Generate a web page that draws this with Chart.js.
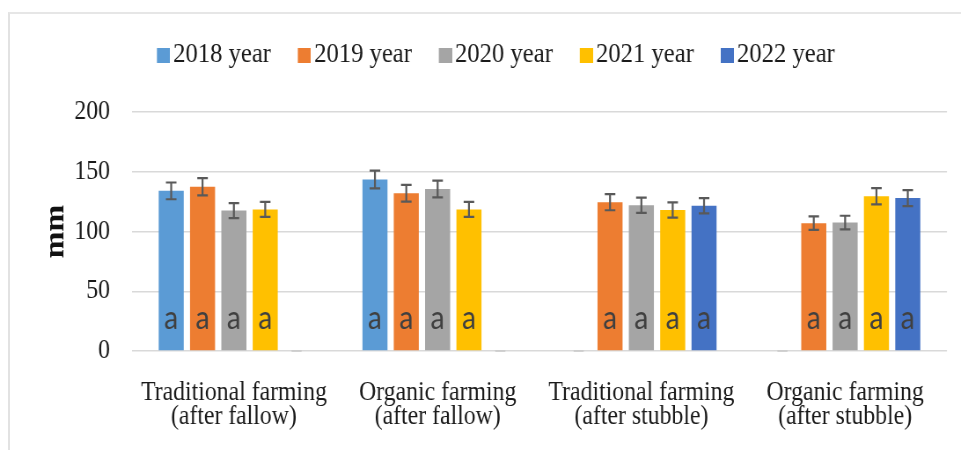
<!DOCTYPE html>
<html>
<head>
<meta charset="utf-8">
<script src="https://cdn.jsdelivr.net/npm/chart.js@4/dist/chart.umd.min.js"></script>
<style>
  body { margin: 0; background: #fff; overflow: hidden; }
  #frame { position: absolute; left: 8px; top: 12px; width: 1000px; height: 500px;
           border-left: 2px solid #e2e2e2; border-top: 2px solid #e6e6e6; }
  #wrap { position: absolute; left: 0; top: 0; width: 1092px; height: 450px;
          transform: scaleX(0.88); transform-origin: 0 0; }
</style>
</head>
<body>
<div id="frame"></div>
<div id="wrap"><canvas id="myChart"></canvas></div>
<script>
const categories = [
    ['Traditional farming', '(after fallow)'],
    ['Organic farming', '(after fallow)'],
    ['Traditional farming', '(after stubble)'],
    ['Organic farming', '(after stubble)']
];
const seriesNames = ['2018 year', '2019 year', '2020 year', '2021 year', '2022 year'];
const seriesColors = ['#5B9BD5', '#ED7D31', '#A5A5A5', '#FFC000', '#4472C4'];

const values2018 = [134, 143.5, 0, 0];
const values2019 = [137.5, 132, 124.5, 107];
const values2020 = [117.5, 135.5, 122, 107.5];
const values2021 = [118.5, 118.5, 118, 129.5];
const values2022 = [0, 0, 121.5, 128];

const errors2018 = [7, 7.4, 0, 0];
const errors2019 = [7.2, 7, 6.7, 5.6];
const errors2020 = [6.3, 7, 6.4, 5.7];
const errors2021 = [6.3, 6.3, 6.4, 6.8];
const errors2022 = [0, 0, 6.4, 6.7];

const letters2018 = ['a', 'a', '', ''];
const letters2019 = ['a', 'a', 'a', 'a'];
const letters2020 = ['a', 'a', 'a', 'a'];
const letters2021 = ['a', 'a', 'a', 'a'];
const letters2022 = ['', '', 'a', 'a'];

const yTicks = [0, 50, 100, 150, 200];

const allValues = [values2018, values2019, values2020, values2021, values2022];
const allErrors = [errors2018, errors2019, errors2020, errors2021, errors2022];
const allLetters = [letters2018, letters2019, letters2020, letters2021, letters2022];

const serif = '"Liberation Serif", "Times New Roman", serif';

// legend square sitting close to its text (right part of a wider transparent image)
function makeBox(color) {
    const c = document.createElement('canvas');
    c.width = 36;
    c.height = 15;
    const g = c.getContext('2d');
    g.fillStyle = color;
    g.fillRect(21, 0, 15, 15);
    return c;
}
const legendBoxes = seriesColors.map(makeBox);

// error bars, zero-bar stubs and the letters at the foot of each bar
const barExtras = {
    id: 'barExtras',
    afterDatasetsDraw(chart) {
        const ctx = chart.ctx;
        const y = chart.scales.y;
        const zero = y.getPixelForValue(0);
        ctx.save();
        chart.data.datasets.forEach((ds, i) => {
            chart.getDatasetMeta(i).data.forEach((bar, j) => {
                const v = allValues[i][j];
                const e = allErrors[i][j];
                if (v === 0) {
                    ctx.strokeStyle = '#c8c8c8';
                    ctx.lineWidth = 1.5;
                    ctx.beginPath();
                    ctx.moveTo(bar.x - bar.width * 0.2, zero);
                    ctx.lineTo(bar.x + bar.width * 0.2, zero);
                    ctx.stroke();
                    return;
                }
                const top = y.getPixelForValue(v + e);
                const bot = y.getPixelForValue(v - e);
                ctx.strokeStyle = '#595959';
                ctx.lineWidth = 2.2;
                ctx.beginPath();
                ctx.moveTo(bar.x, top);
                ctx.lineTo(bar.x, bot);
                ctx.moveTo(bar.x - 6, top);
                ctx.lineTo(bar.x + 6, top);
                ctx.moveTo(bar.x - 6, bot);
                ctx.lineTo(bar.x + 6, bot);
                ctx.stroke();

                ctx.fillStyle = '#404040';
                ctx.font = '32px Lato';
                ctx.textAlign = 'center';
                ctx.textBaseline = 'alphabetic';
                ctx.fillText(allLetters[i][j], bar.x, zero - 22);
            });
        });
        ctx.restore();
    }
};

// extra space between legend and plot
const legendGap = {
    id: 'legendGap',
    beforeInit(chart) {
        const fit = chart.legend.fit;
        chart.legend.fit = function () {
            fit.bind(chart.legend)();
            this.height += 33;
        };
    }
};

const ctx = document.querySelector('#myChart').getContext('2d');
const myChart = new Chart(ctx, {
    type: 'bar',
    data: {
        labels: categories,
        datasets: seriesNames.map((name, i) => ({
            label: name,
            data: allValues[i],
            backgroundColor: seriesColors[i],
            borderWidth: 0,
            barPercentage: 0.8,
            categoryPercentage: 0.769
        }))
    },
    plugins: [barExtras, legendGap],
    options: {
        responsive: true,
        maintainAspectRatio: false,
        animation: false,
        layout: {
            padding: { left: 40.3, right: 15.9, top: 21, bottom: 0 }
        },
        plugins: {
            tooltip: { enabled: false },
            legend: {
                position: 'top',
                labels: {
                    usePointStyle: true,
                    boxWidth: 15,
                    boxHeight: 15,
                    padding: 20,
                    color: '#1a1a1a',
                    font: { family: serif, size: 28 },
                    generateLabels(chart) {
                        const items = Chart.defaults.plugins.legend.labels.generateLabels(chart);
                        items.forEach((it, i) => { it.pointStyle = legendBoxes[i]; });
                        return items;
                    }
                }
            }
        },
        scales: {
            x: {
                grid: { display: false },
                border: { display: false },
                ticks: {
                    color: '#1a1a1a',
                    padding: 22,
                    maxRotation: 0,
                    font: { family: serif, size: 27, lineHeight: '24px' }
                },
                afterFit(scale) { scale.height = 99; }
            },
            y: {
                min: 0,
                max: 200,
                afterBuildTicks(scale) { scale.ticks = yTicks.map(v => ({ value: v })); },
                grid: { color: '#d9d9d9', lineWidth: 1.5, drawTicks: false },
                border: { display: false },
                ticks: {
                    color: '#1a1a1a',
                    padding: 25,
                    font: { family: serif, size: 27 }
                },
                title: {
                    display: true,
                    text: 'mm',
                    color: '#111',
                    padding: { top: 10.5, bottom: 0 },
                    font: { family: serif, size: 32, weight: 'bold', lineHeight: 0.8 }
                },
                afterFit(scale) { scale.width = 109.7; }
            }
        }
    }
});
</script>
</body>
</html>
